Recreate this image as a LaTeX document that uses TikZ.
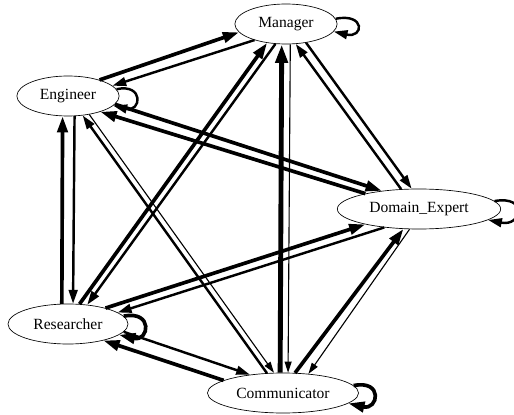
\documentclass[tikz,border=0pt]{standalone}
\usepackage{fontspec}
\setmainfont{Liberation Serif}
\usetikzlibrary{shapes.geometric,arrows.meta}

\begin{document}
\begin{tikzpicture}[x=0.9pt,y=-0.9pt]
	%%%%% START %%%%%
	\def\lwhuge{4.4pt}
	\def\lwthick{3.3pt}
	\def\lwmid{2.2pt}
	\def\lwthin{1pt}
	\tikzset{
		agent/.style={ellipse,draw,line width=0.6pt,inner sep=0pt,minimum height=36pt,font=\fontsize{14}{16}\selectfont},
		flow/.style={-{Triangle[length=8pt 2,width=5pt 1.3]}},
	}
	\useasboundingbox (0,0) rectangle (514,415);

	\node[agent,minimum width=92pt] (Manager) at (286,24) {Manager};
	\node[agent,minimum width=92pt] (Engineer) at (68,96) {Engineer};
	\node[agent,minimum width=147pt] (Domain_Expert) at (419,209) {Domain\_Expert};
	\node[agent,minimum width=108pt] (Researcher) at (68,324) {Researcher};
	\node[agent,minimum width=136pt] (Communicator) at (283,393) {Communicator};

	% Engineer
	\draw[flow,line width=\lwthick] (Engineer.27) -- (Manager.190);
	\draw[flow,line width=\lwmid] (Manager.207) -- (Engineer.13);
	\draw[flow,line width=\lwthick] (Researcher.107) -- (Engineer.-105);
	\draw[flow,line width=\lwmid] (Engineer.-72) -- (Researcher.76);
	\draw[flow,line width=\lwthick] (Engineer.-10) -- (Domain_Expert.154);
	\draw[flow,line width=\lwthick] (Domain_Expert.164) -- (Engineer.-26);
	\draw[flow,line width=\lwmid] (Communicator.129) -- (Engineer.-53);
	\draw[flow,line width=\lwthin] (Engineer.-41) -- (Communicator.114);

	% Manager
	\draw[flow,line width=\lwthick] (Researcher.60) -- (Manager.-135);
	\draw[flow,line width=\lwmid] (Manager.-118) -- (Researcher.45);
	\draw[flow,line width=\lwhuge] (Communicator.98) -- (Manager.-102);
	\draw[flow,line width=\lwthin] (Manager.-78) -- (Communicator.76);
	\draw[flow,line width=\lwmid] (Manager.-43) -- (Domain_Expert.110);
	\draw[flow,line width=\lwmid] (Domain_Expert.132) -- (Manager.-64);

	% Domain_Expert, Researcher, Communicator
	\draw[flow,line width=\lwthick] (Researcher.23) -- (Domain_Expert.-164);
	\draw[flow,line width=\lwmid] (Domain_Expert.-152) -- (Researcher.13);
	\draw[flow,line width=\lwthick] (Communicator.59) -- (Domain_Expert.-128);
	\draw[flow,line width=\lwthin] (Domain_Expert.-115) -- (Communicator.37);
	\draw[flow,line width=\lwthick] (Communicator.168) -- (Researcher.-25);
	\draw[flow,line width=\lwmid] (Researcher.-8) -- (Communicator.151);

	% self loops
	\draw[flow,line width=\lwmid] (Manager.6) .. controls +(30,-6) and +(30,7) .. (Manager.-9);
	\draw[flow,line width=\lwmid] (Engineer.8) .. controls +(28,-6) and +(28,7) .. (Engineer.-12);
	\draw[flow,line width=\lwmid] (Domain_Expert.6) .. controls +(34,-6) and +(34,7) .. (Domain_Expert.-9);
	\draw[flow,line width=\lwthick] (Researcher.8) .. controls +(30,-6) and +(30,7) .. (Researcher.-12);
	\draw[flow,line width=\lwthick] (Communicator.6) .. controls +(30,-6) and +(30,7) .. (Communicator.-9);
	%%%%% END %%%%%
\end{tikzpicture}
\end{document}
